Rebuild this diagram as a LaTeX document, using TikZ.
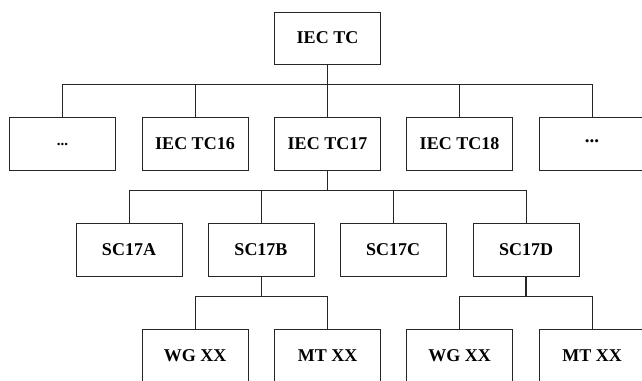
\documentclass[tikz,border=0pt]{standalone}
\usepackage{fontspec}
\setmainfont{Liberation Serif}
\begin{document}
\begin{tikzpicture}[x=1pt,y=-1pt,
  box/.style={draw=black!85,line width=0.9pt,fill=white,minimum width=106pt,minimum height=53pt,inner sep=0pt,font=\fontsize{18}{20}\selectfont\bfseries},
  conn/.style={draw=black!85,line width=0.9pt}]
\useasboundingbox (0,0) rectangle (642,380);
\clip (0,0) rectangle (642,380);
\node[box,minimum height=52pt] (tc) at (327.5,38) {IEC TC};
\node[box] (d1) at (62.5,144) {\fontsize{15}{17}\selectfont ...};
\node[box] (t16) at (195,144) {IEC TC16};
\node[box] (t17) at (327.5,144) {IEC TC17};
\node[box] (t18) at (459.5,144) {IEC TC18};
\node[box] (d2) at (592,144) {\fontsize{19}{20}\selectfont\raisebox{0.28em}{...}};
\node[box] (sa) at (129,249.5) {SC17A};
\node[box] (sb) at (261,249.5) {SC17B};
\node[box] (sc) at (393,249.5) {SC17C};
\node[box] (sd) at (526,249.5) {SC17D};
\node[box] (w1) at (195,355.5) {WG XX};
\node[box] (m1) at (327.5,355.5) {MT XX};
\node[box] (w2) at (459.5,355.5) {WG XX};
\node[box] (m2) at (592,355.5) {MT XX};
\foreach \c in {d1,t16,t17,t18,d2}
  \draw[conn] (tc.south) -- ++(0,20) -| (\c.north);
\foreach \c in {sa,sb,sc,sd}
  \draw[conn] (t17.south) -- ++(0,19) -| (\c.north);
\foreach \c in {w1,m1}
  \draw[conn] (sb.south) -- ++(0,20) -| (\c.north);
\foreach \c in {w2,m2}
  \draw[conn] (sd.south) ++(0,20) -| (\c.north);
\draw[conn,line width=1.6pt] (sd.south) -- ++(0,20);
\end{tikzpicture}
\end{document}
